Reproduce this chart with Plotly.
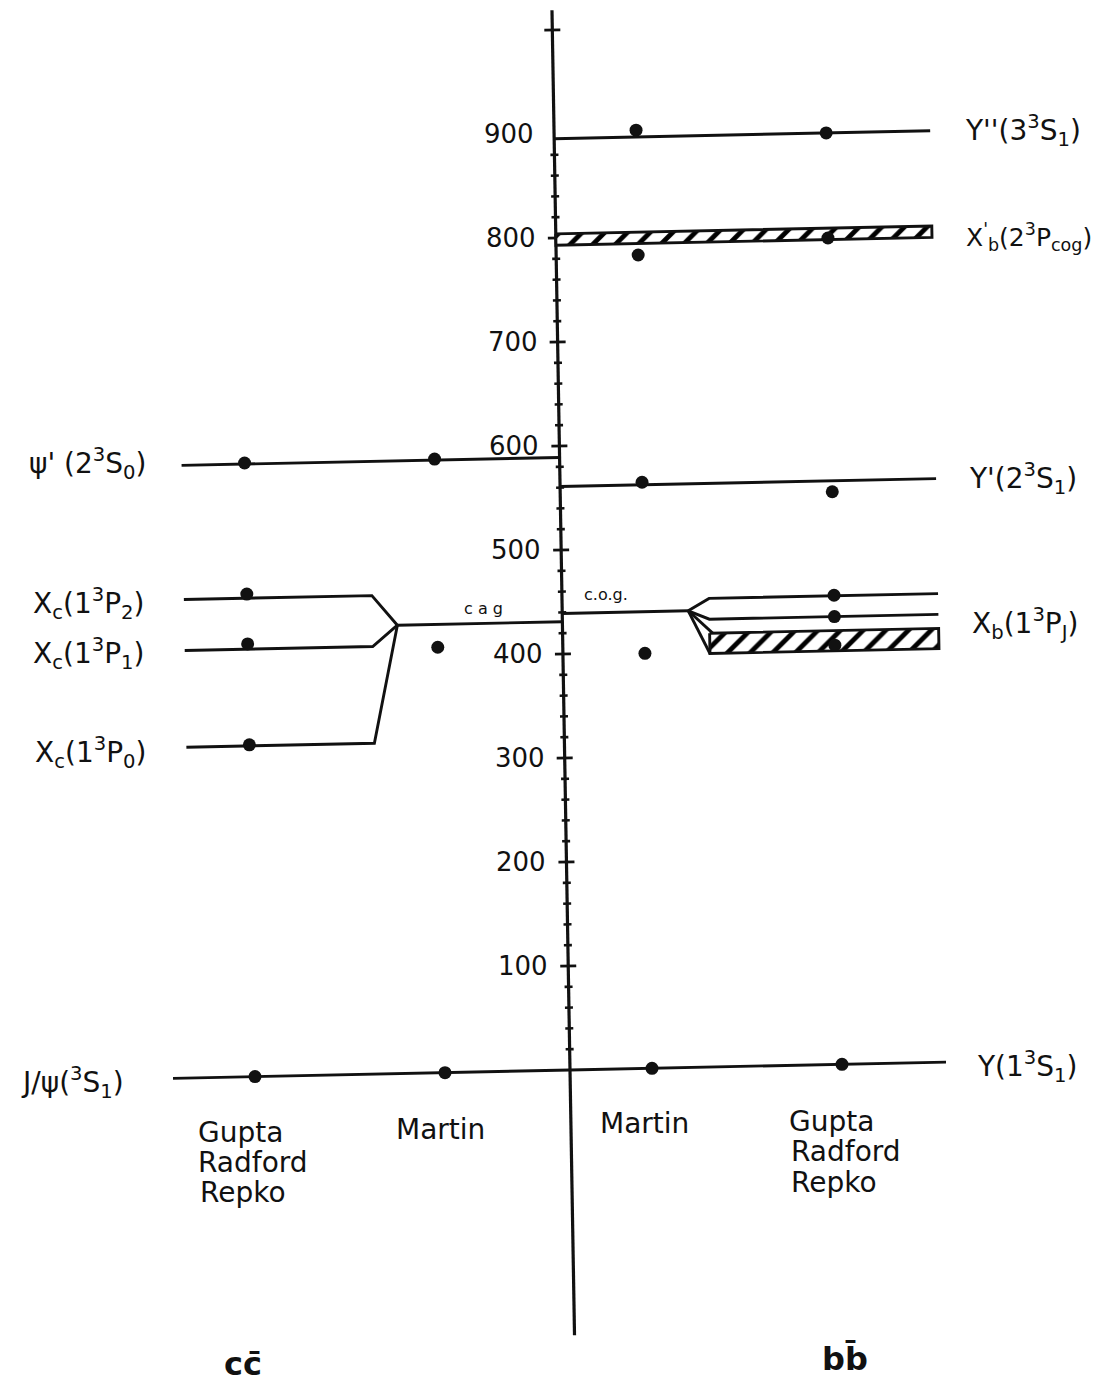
import plotly.graph_objects as go

# ---------------------------------------------------------------
# Level data: mass splittings in MeV above the 1³S₁ ground state
# ---------------------------------------------------------------
axis_ticks_major = [100, 200, 300, 400, 500, 600, 700, 800, 900]
axis_tick_labels = ["100", "200", "300", "400", "500", "600", "700", "800", "900"]

# charmonium (c c-bar) measured levels
cc_names = ["J/ψ", "ψ'", "χc2", "χc1", "χc0"]
cc_levels = [0, 589, 460, 411, 318]
cc_p_cog = 431
# model predictions, charmonium
cc_grr = [0, 590, 464, 416, 319]          # Gupta-Radford-Repko: J/ψ, ψ', χc2, χc1, χc0
cc_martin = [0, 590, 409]                 # Martin: J/ψ, ψ', χc (c.o.g.)

# bottomonium (b b-bar) measured levels
bb_names = ["Υ", "Υ'", "Υ''"]
bb_levels = [0, 561, 895.5]
bb_chib2p_band = [793, 804]               # χ'b(2³P) c.o.g. band
bb_p_cog = 439
bb_chib = [450.5, 430.5]                  # χb2, χb1
bb_chib0_band = [397.5, 417]              # χb0 band
# model predictions, bottomonium
bb_martin = [0, 563.5, 902, 782, 399]     # Υ, Υ', Υ'', χ'b, χb (c.o.g.)
bb_grr = [0, 550.5, 895.5, 794.5, 451, 430.5, 403]  # Υ, Υ', Υ'', χ'b, χb2, χb1, χb0

# ---------------------------------------------------------------
# Page geometry (horizontal offsets in px from the energy axis)
# ---------------------------------------------------------------
W, H = 1104, 1387
X0, Y0 = 570, 1070          # page position of the axis origin
K = 1.04                    # px per MeV
SV, SH = 0.017, 0.021       # slight skew of the drawing
Y_TOP = Y0 / K
Y_BOT = -(H - Y0) / K

INK = "#111111"
LW = 2.9
FONT = "DejaVu Sans"

COL_CC_GRR, COL_CC_MARTIN = -315, -125
COL_BB_MARTIN, COL_BB_GRR = 82, 272
CC_START, JPSI_START = -378, -397
CC_BREAK, CC_JOIN = -190, -165
BB_SPLIT, BB_ELBOW, BB_END = 126, 147, 376


def place(dx, e):
    """Map (offset from axis, energy) to plot coordinates."""
    return X0 + dx - SV * e * K, e + SH * dx / K


def page(px, py):
    """Plot coordinates of a fixed page position (used for text)."""
    return px, (Y0 - py) / K


fig = go.Figure()


def path(points, width=LW):
    xs, ys = zip(*[place(dx, e) for dx, e in points])
    fig.add_trace(go.Scatter(x=xs, y=ys, mode="lines",
                             line=dict(color=INK, width=width),
                             hoverinfo="skip", showlegend=False))


def band(x_from, x_to, lo, hi):
    pts = [(x_from, hi), (x_to, hi), (x_to, lo), (x_from, lo), (x_from, hi)]
    xs, ys = zip(*[place(dx, e) for dx, e in pts])
    fig.add_trace(go.Scatter(x=xs, y=ys, mode="lines", fill="toself",
                             fillcolor="white",
                             fillpattern=dict(shape="/", size=16, solidity=0.3,
                                              fgcolor="#000000", fgopacity=1,
                                              bgcolor="white"),
                             line=dict(color=INK, width=LW),
                             hoverinfo="skip", showlegend=False))


def dots(col, values):
    xs, ys = zip(*[place(col, v) for v in values])
    fig.add_trace(go.Scatter(x=xs, y=ys, mode="markers",
                             marker=dict(color=INK, size=13, line=dict(width=0)),
                             hoverinfo="skip", showlegend=False))


# --- energy axis with crossing ticks ---
path([(0, -255), (0, 1019)], width=3.2)
tx, ty = [], []
for v in list(range(20, 900, 20)) + [1000]:
    half = 8 if v % 100 == 0 else 4
    for p in (place(-half, v), place(half, v)):
        tx.append(p[0]); ty.append(p[1])
    tx.append(None); ty.append(None)
fig.add_trace(go.Scatter(x=tx, y=ty, mode="lines", line=dict(color=INK, width=2.6),
                         hoverinfo="skip", showlegend=False))

# --- charmonium side ---
path([(JPSI_START, cc_levels[0]), (0, cc_levels[0])])
path([(CC_START, cc_levels[1]), (0, cc_levels[1])])
for lvl in cc_levels[2:]:
    path([(CC_START, lvl), (CC_BREAK, lvl), (CC_JOIN, cc_p_cog)])
path([(CC_JOIN, cc_p_cog), (0, cc_p_cog)])

# --- bottomonium side ---
path([(0, bb_levels[0]), (BB_END, bb_levels[0])])
path([(0, bb_levels[1]), (BB_END, bb_levels[1])])
path([(0, bb_levels[2]), (BB_END, bb_levels[2])])
band(0, BB_END, bb_chib2p_band[0], bb_chib2p_band[1])
path([(0, bb_p_cog), (BB_SPLIT, bb_p_cog)])
for lvl in bb_chib:
    path([(BB_SPLIT, bb_p_cog), (BB_ELBOW, lvl), (BB_END, lvl)])
band(BB_ELBOW, BB_END, bb_chib0_band[0], bb_chib0_band[1])
path([(BB_SPLIT, bb_p_cog), (BB_ELBOW + 3, bb_chib0_band[1])])
path([(BB_SPLIT, bb_p_cog), (BB_ELBOW, bb_chib0_band[0])])

# --- model predictions ---
dots(COL_CC_GRR, cc_grr)
dots(COL_CC_MARTIN, cc_martin)
dots(COL_BB_MARTIN, bb_martin)
dots(COL_BB_GRR, bb_grr)

# --- text ---
ann = []


def text(s, x, y, size=28, xanchor="left", bold=False):
    ann.append(dict(x=x, y=y, xref="x", yref="y", text=s, showarrow=False,
                    xanchor=xanchor, yanchor="middle",
                    font=dict(family=FONT, size=size, color=INK,
                              weight="bold" if bold else "normal")))


for v, lab in zip(axis_ticks_major, axis_tick_labels):
    x, y = place(-18, v)
    text(lab, x, y, size=26, xanchor="right")

right_labels = [
    ("Υ''(3<sup>3</sup>S<sub>1</sub>)", 963, 130, 28),
    ("Χ<sup>'</sup><sub>b</sub>(2<sup>3</sup>P<sub>cog</sub>)", 964, 237, 25),
    ("Υ'(2<sup>3</sup>S<sub>1</sub>)", 967, 478, 28),
    ("Χ<sub>b</sub>(1<sup>3</sup>P<sub>J</sub>)", 970, 623, 28),
    ("Υ(1<sup>3</sup>S<sub>1</sub>)", 975, 1066, 28),
]
for s, px, py, sz in right_labels:
    text(s, *page(px, py), size=sz)

left_labels = [
    ("ψ' (2<sup>3</sup>S<sub>0</sub>)", 148, 463),
    ("Χ<sub>c</sub>(1<sup>3</sup>P<sub>2</sub>)", 146, 603),
    ("Χ<sub>c</sub>(1<sup>3</sup>P<sub>1</sub>)", 146, 653),
    ("Χ<sub>c</sub>(1<sup>3</sup>P<sub>0</sub>)", 148, 752),
    ("J/ψ(<sup>3</sup>S<sub>1</sub>)", 126, 1082),
]
for s, px, py in left_labels:
    text(s, *page(px, py), xanchor="right")

model_labels = [
    ("Gupta", 196, 1132), ("Radford", 196, 1162), ("Repko", 198, 1192),
    ("Martin", 394, 1129),
    ("Martin", 598, 1123),
    ("Gupta", 787, 1121), ("Radford", 789, 1151), ("Repko", 789, 1182),
]
for s, px, py in model_labels:
    text(s, *page(px, py))

text("c a g", *page(483, 608), size=16, xanchor="center")
text("c.o.g.", *page(606, 594), size=16, xanchor="center")
text("cc\u0304", *page(243, 1364), size=32, xanchor="center", bold=True)
text("bb\u0304", *page(845, 1359), size=32, xanchor="center", bold=True)

fig.update_layout(
    width=W, height=H,
    margin=dict(l=0, r=0, t=0, b=0),
    paper_bgcolor="white", plot_bgcolor="white",
    xaxis=dict(range=[0, W], visible=False, fixedrange=True),
    yaxis=dict(range=[Y_BOT, Y_TOP], visible=False, fixedrange=True),
    annotations=ann,
    showlegend=False,
)

fig.write_html("out.html")
